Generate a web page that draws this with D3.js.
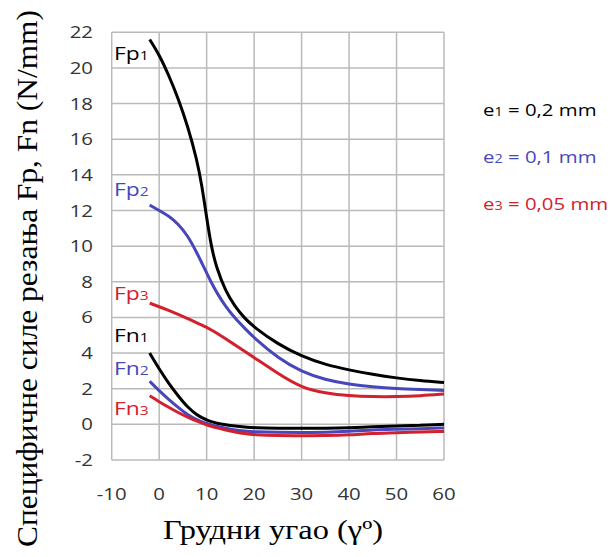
<!DOCTYPE html>
<html>
<head>
<meta charset="utf-8">
<script src="https://cdn.jsdelivr.net/npm/d3@7"></script>
<style>
  body { margin: 0; background: #fff; }
</style>
</head>
<body>
<script>
// rake angle (deg)
var angles = [-2, 0, 2, 4, 6, 8, 9, 10, 11, 12, 14, 16, 18, 20, 25, 30, 35, 40, 45, 50, 55, 60];

var fp1 = [21.6, 20.75, 19.6, 18.3, 16.75, 14.8, 13.4, 11.6, 9.95, 8.85, 7.45, 6.6, 5.95, 5.45, 4.5, 3.82, 3.35, 3.05, 2.8, 2.6, 2.45, 2.35];
var fp2 = [12.3, 12.0, 11.7, 11.25, 10.6, 9.6, 9.05, 8.5, 7.95, 7.45, 6.6, 5.95, 5.4, 4.85, 3.72, 2.95, 2.5, 2.25, 2.1, 2.0, 1.95, 1.9];
var fp3 = [6.8, 6.6, 6.4, 6.18, 5.94, 5.68, 5.57, 5.45, 5.3, 5.14, 4.8, 4.45, 4.1, 3.75, 2.85, 2.05, 1.75, 1.6, 1.55, 1.55, 1.6, 1.7];
var fn1 = [4.0, 3.1, 2.3, 1.6, 0.95, 0.52, 0.37, 0.25, 0.15, 0.07, -0.03, -0.1, -0.15, -0.19, -0.22, -0.22, -0.22, -0.2, -0.13, -0.1, -0.05, 0.0];
var fn2 = [2.42, 1.88, 1.4, 0.95, 0.53, 0.25, 0.14, 0.05, -0.03, -0.1, -0.22, -0.32, -0.38, -0.42, -0.45, -0.45, -0.45, -0.4, -0.3, -0.28, -0.25, -0.2];
var fn3 = [1.6, 1.27, 0.96, 0.66, 0.4, 0.17, 0.07, -0.03, -0.11, -0.19, -0.32, -0.43, -0.52, -0.58, -0.64, -0.64, -0.63, -0.6, -0.5, -0.48, -0.42, -0.4];

var xTicks = [-10, 0, 10, 20, 30, 40, 50, 60];
var yTicks = [-2, 0, 2, 4, 6, 8, 10, 12, 14, 16, 18, 20, 22];

var black = "#000000", blue = "#4747bb", red = "#d3202e";

var series = [
  {name: "Fp", sub: "1", values: fp1, color: black},
  {name: "Fp", sub: "2", values: fp2, color: blue},
  {name: "Fp", sub: "3", values: fp3, color: red},
  {name: "Fn", sub: "1", values: fn1, color: black},
  {name: "Fn", sub: "2", values: fn2, color: blue},
  {name: "Fn", sub: "3", values: fn3, color: red}
];
// label baselines (value units) for the curve labels
var labelY = [20.42, 12.83, 6.98, 4.64, 2.77, 0.53];

var legend = [
  {sub: "1", text: " = 0,2 mm", color: black},
  {sub: "2", text: " = 0,1 mm", color: blue},
  {sub: "3", text: " = 0,05 mm", color: red}
];

var svg = d3.select("body").append("svg")
  .attr("width", 613)
  .attr("height", 557);

var x = d3.scaleLinear().domain([-10, 60]).range([111.7, 444]);
var y = d3.scaleLinear().domain([-2, 22]).range([460, 32.3]);

// the original text is a bit wider than the font
function place(px, py, s){ return "translate(" + px + "," + py + ") scale(" + (s || 1.2) + ",1)"; }

// grid
svg.append("g").selectAll("line.v")
  .data(xTicks).enter().append("line")
  .attr("x1", function(d){ return x(d); })
  .attr("x2", function(d){ return x(d); })
  .attr("y1", y(-2)).attr("y2", y(22))
  .attr("stroke", "#bababa").attr("stroke-width", 1.5);

svg.append("g").selectAll("line.h")
  .data(yTicks).enter().append("line")
  .attr("y1", function(d){ return y(d); })
  .attr("y2", function(d){ return y(d); })
  .attr("x1", x(-10)).attr("x2", x(60))
  .attr("stroke", "#bababa").attr("stroke-width", 1.5);

// tick labels
svg.append("g").selectAll("text")
  .data(yTicks).enter().append("text")
  .attr("transform", function(d){ return place(93, y(d) + 6); })
  .attr("text-anchor", "end")
  .attr("font-family", "Open Sans, sans-serif")
  .attr("font-size", 17)
  .attr("fill", "#333")
  .text(function(d){ return d; });

svg.append("g").selectAll("text")
  .data(xTicks).enter().append("text")
  .attr("transform", function(d){ return place(x(d), 500); })
  .attr("text-anchor", "middle")
  .attr("font-family", "Open Sans, sans-serif")
  .attr("font-size", 17)
  .attr("fill", "#333")
  .text(function(d){ return d; });

// curves
var line = d3.line()
  .x(function(d){ return x(d[0]); })
  .y(function(d){ return y(d[1]); })
  .curve(d3.curveBasis);

svg.append("g").selectAll("path")
  .data(series).enter().append("path")
  .attr("d", function(s){ return line(angles.map(function(a, i){ return [a, s.values[i]]; })); })
  .attr("fill", "none")
  .attr("stroke", function(s){ return s.color; })
  .attr("stroke-width", 3);

// curve labels
var lbl = svg.append("g").selectAll("text")
  .data(series).enter().append("text")
  .attr("transform", function(s, i){ return place(114, y(labelY[i])); })
  .attr("font-family", "Open Sans, sans-serif")
  .attr("font-size", 19)
  .attr("fill", function(s){ return s.color; });
lbl.append("tspan").text(function(s){ return s.name; });
lbl.append("tspan").attr("font-size", 13).text(function(s){ return s.sub; });

// legend
var leg = svg.append("g").selectAll("text")
  .data(legend).enter().append("text")
  .attr("transform", function(d, i){ return place(483, 116 + i * 47, 1.2); })
  .attr("font-family", "Open Sans, sans-serif")
  .attr("font-size", 17)
  .attr("fill", function(d){ return d.color; });
leg.append("tspan").text("e");
leg.append("tspan").attr("font-size", 12).text(function(d){ return d.sub; });
leg.append("tspan").text(function(d){ return d.text; });

// axis titles
svg.append("text")
  .attr("transform", "translate(37,278.5) rotate(-90)")
  .attr("text-anchor", "middle")
  .attr("font-family", "Liberation Serif, Times New Roman, serif")
  .attr("font-size", 29)
  .attr("textLength", 537)
  .attr("lengthAdjust", "spacingAndGlyphs")
  .attr("fill", "#000")
  .text("Специфичне силе резања Fp, Fn (N/mm)");

svg.append("text")
  .attr("x", 273)
  .attr("y", 539)
  .attr("text-anchor", "middle")
  .attr("font-family", "Liberation Serif, Times New Roman, serif")
  .attr("font-size", 27)
  .attr("textLength", 220)
  .attr("lengthAdjust", "spacingAndGlyphs")
  .attr("fill", "#000")
  .text("Грудни угао (γº)");
</script>
</body>
</html>
